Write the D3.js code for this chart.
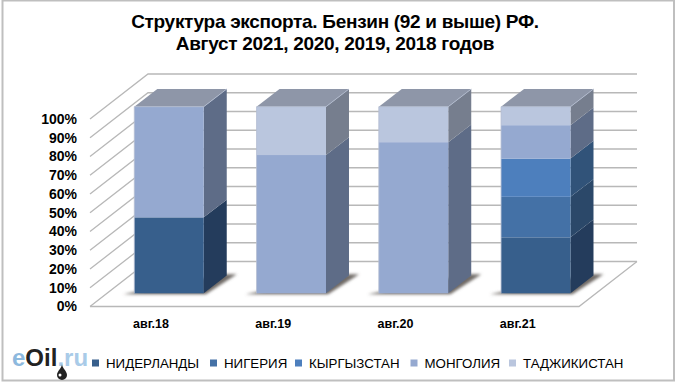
<!DOCTYPE html>
<html>
<head>
<meta charset="utf-8">
<script src="https://cdn.jsdelivr.net/npm/d3@7"></script>
<style>
  html, body { margin: 0; padding: 0; background: #fff; }
  svg { display: block; font-family: "Liberation Sans", Arial, sans-serif; }
</style>
</head>
<body>
<svg id="canvas" width="680" height="385"></svg>
<script>
const months = ['авг.18', 'авг.19', 'авг.20', 'авг.21'];
const countries = ['НИДЕРЛАНДЫ', 'НИГЕРИЯ', 'КЫРГЫЗСТАН', 'МОНГОЛИЯ', 'ТАДЖИКИСТАН'];
const titleLines = ['Структура экспорта. Бензин (92 и выше) РФ.', 'Август 2021, 2020, 2019, 2018 годов'];
const ticks = [0, 10, 20, 30, 40, 50, 60, 70, 80, 90, 100];

// share of each country per month, %
const netherlands = [40.7, 0, 0, 30];
const nigeria = [0, 0, 0, 21.7];
const kyrgyzstan = [0, 0, 0, 20.5];
const mongolia = [59.3, 74.1, 81, 17.9];
const tajikistan = [0, 25.9, 19, 9.9];

const front = ['#375f8c', '#4471a6', '#4d7fbd', '#95a9d0', '#bac6de'];
const side = ['#243c5c', '#2b4869', '#315379', '#5e6c87', '#767e8e'];

const rows = months.map((m, i) => ({
  month: m,
  [countries[0]]: netherlands[i],
  [countries[1]]: nigeria[i],
  [countries[2]]: kyrgyzstan[i],
  [countries[3]]: mongolia[i],
  [countries[4]]: tajikistan[i]
}));
const stacked = d3.stack().keys(countries)(rows);

const svg = d3.select('#canvas');

// frame
svg.append('rect')
  .attr('x', 2.5).attr('y', 0.5).attr('width', 671.5).attr('height', 380)
  .attr('fill', '#fff').attr('stroke', '#bfbfbf').attr('stroke-width', 2);

// title
svg.append('g').selectAll('text').data(titleLines).join('text')
  .attr('x', 335)
  .attr('y', (d, i) => 28 + i * 22)
  .attr('text-anchor', 'middle')
  .attr('font-size', 19)
  .attr('font-weight', 'bold')
  .attr('letter-spacing', -0.3)
  .text(d => d);

// plot box: the wall sits behind the floor by this offset
const wall = { dx: 58, dy: -45 };
const floorX = [90, 579];
const gridY = d3.scaleLinear().domain([0, 100]).range([306.5, 119]);

const grid = svg.append('g').attr('fill', 'none').attr('stroke', '#b8b8b8').attr('stroke-width', 1.3);
grid.selectAll('path.wall').data(ticks).join('path')
  .attr('class', 'wall')
  .attr('d', d => {
    const y = gridY(d);
    return `M${floorX[0]},${y}L${floorX[0] + wall.dx},${y + wall.dy}L${floorX[1] + wall.dx},${y + wall.dy}`;
  });
grid.append('path')
  .attr('d', `M${floorX[0]},${gridY(0)}L${floorX[1]},${gridY(0)}L${floorX[1] + wall.dx},${gridY(0) + wall.dy}`);

// y labels
svg.append('g').selectAll('text').data(ticks).join('text')
  .attr('x', 77)
  .attr('y', d => gridY(d) + 4.8)
  .attr('text-anchor', 'end')
  .attr('font-size', 14)
  .attr('font-weight', 'bold')
  .text(d => d + '%');

// bars
const x = d3.scaleBand().domain(months).range([107.9, 596.9]).paddingInner(0.432).paddingOuter(0.216);
const y = d3.scaleLinear().domain([0, 100]).range([293.3, 106.7]);
const depth = { dx: 23, dy: -17.7 };

const defs = svg.append('defs');
const blur = defs.append('filter').attr('id', 'soft').attr('x', '-20%').attr('y', '-50%').attr('width', '140%').attr('height', '200%');
blur.append('feGaussianBlur').attr('stdDeviation', 1.5);

const bars = svg.append('g');
months.forEach(m => {
  const x0 = x(m);
  const x1 = x0 + x.bandwidth();
  // shadow on the floor
  bars.append('path')
    .attr('d', `M${x0 - 11},${y(0) + 1}L${x1 + 2},${y(0) + 1}L${x1 + 33},${y(0) - 19}L${x1 + 20},${y(0) - 19}Z`)
    .attr('fill', '#6f6a66')
    .attr('filter', 'url(#soft)');
});

stacked.forEach((layer, s) => {
  const cells = bars.selectAll(null).data(layer.filter(d => d[1] - d[0] > 0)).join('g');
  cells.append('path')
    .attr('fill', side[s])
    .attr('d', d => {
      const x1 = x(d.data.month) + x.bandwidth();
      return `M${x1},${y(d[0])}L${x1 + depth.dx},${y(d[0]) + depth.dy}L${x1 + depth.dx},${y(d[1]) + depth.dy}L${x1},${y(d[1])}Z`;
    });
  cells.append('rect')
    .attr('x', d => x(d.data.month))
    .attr('y', d => y(d[1]))
    .attr('width', x.bandwidth())
    .attr('height', d => y(d[0]) - y(d[1]))
    .attr('fill', front[s]);
});

// bar tops
bars.selectAll('path.top').data(months).join('path')
  .attr('class', 'top')
  .attr('fill', '#8e96a8')
  .attr('d', m => {
    const x0 = x(m);
    const x1 = x0 + x.bandwidth();
    return `M${x0},${y(100)}L${x1},${y(100)}L${x1 + depth.dx},${y(100) + depth.dy}L${x0 + depth.dx},${y(100) + depth.dy}Z`;
  });
// lighter bevel along the front and right top edges
bars.selectAll('path.bevel').data(months).join('path')
  .attr('class', 'bevel')
  .attr('fill', 'none')
  .attr('stroke', '#b4bed2')
  .attr('stroke-width', 1)
  .attr('opacity', 0.8)
  .attr('d', m => {
    const x0 = x(m);
    const x1 = x0 + x.bandwidth();
    return `M${x0},${y(0)}L${x0},${y(100)}L${x1},${y(100)}L${x1 + depth.dx},${y(100) + depth.dy}`;
  });

// month labels sit under the front edge of the floor, left of the bars
svg.append('g').selectAll('text').data(months).join('text')
  .attr('x', m => x(m) + x.bandwidth() / 2 - 18)
  .attr('y', 328)
  .attr('text-anchor', 'middle')
  .attr('font-size', 12.5)
  .attr('font-weight', 'bold')
  .text(d => d);

// legend
const legendX = [92, 210, 295, 410.5, 509];
const legend = svg.append('g').selectAll('g').data(countries).join('g')
  .attr('transform', (d, i) => `translate(${legendX[i]},365)`);
legend.append('rect')
  .attr('x', 0).attr('y', -5.5).attr('width', 7).attr('height', 7)
  .attr('fill', (d, i) => front[i]);
legend.append('text')
  .attr('x', 14).attr('y', 3)
  .attr('font-size', 13.3)
  .text(d => d);

// logo
const logo = svg.append('text').attr('x', 12).attr('y', 366).attr('font-size', 24).attr('font-weight', 'bold');
logo.append('tspan').attr('fill', '#8db9de').text('e');
logo.append('tspan').attr('fill', '#222').text('Oil');
logo.append('tspan').attr('fill', '#a9cbe8').text('.ru');
svg.append('path')
  .attr('d', 'M62,364C62,368 57,371 57,375A5,5 0 0 0 67,375C67,371 62,368 62,364Z')
  .attr('fill', '#222');
svg.append('circle').attr('cx', 60).attr('cy', 375).attr('r', 1.5).attr('fill', '#fff');
</script>
</body>
</html>
